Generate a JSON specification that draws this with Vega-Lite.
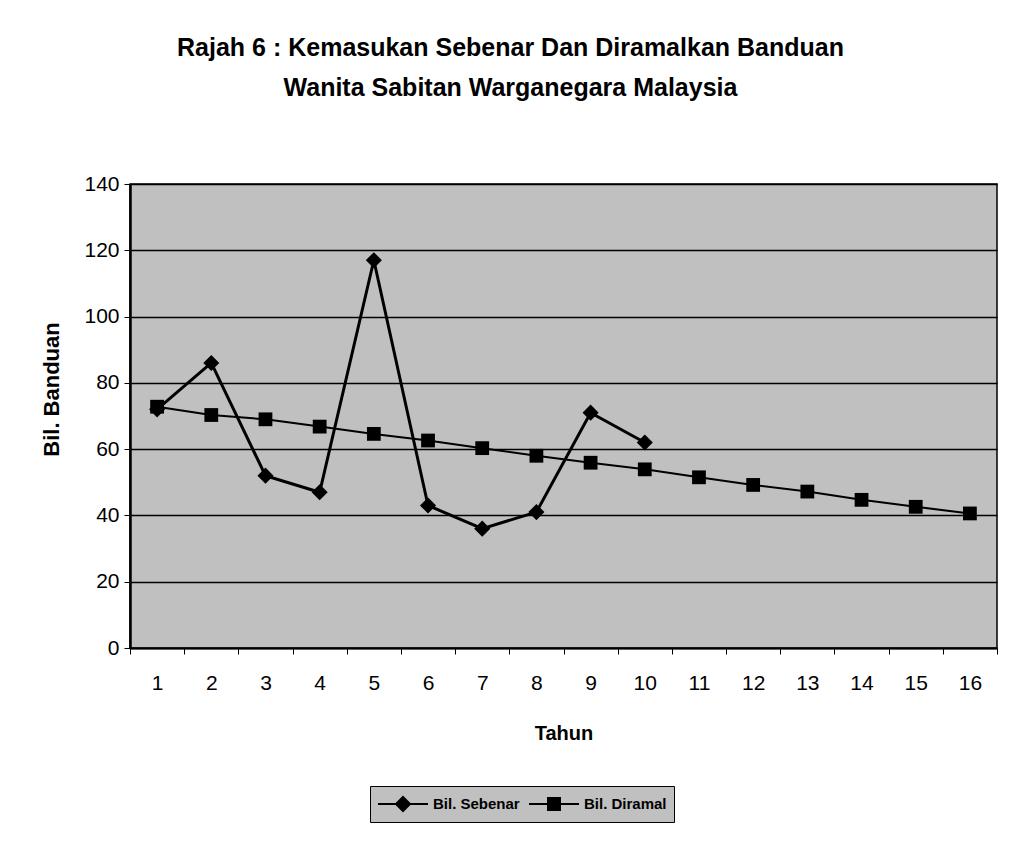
{
  "$schema": "https://vega.github.io/schema/vega-lite/v6.json",
  "width": 867,
  "height": 464,
  "autosize": "none",
  "padding": {"left": 130, "top": 184, "right": 15, "bottom": 195},
  "background": "white",
  "config": {
    "font": "Liberation Sans",
    "view": {"fill": "#c0c0c0", "stroke": "black", "strokeWidth": 1.5}
  },
  "title": {
    "text": ["Rajah 6 : Kemasukan Sebenar Dan Diramalkan Banduan", "Wanita Sabitan Warganegara Malaysia"],
    "fontSize": 25,
    "font": "Liberation Sans",
    "fontWeight": "bold",
    "color": "black",
    "anchor": "middle",
    "frame": "group",
    "dx": -53,
    "offset": 72,
    "lineHeight": 40
  },
  "data": {
    "values": [
      {"tahun": 1, "series": "Bil. Sebenar", "value": 72},
      {"tahun": 2, "series": "Bil. Sebenar", "value": 86},
      {"tahun": 3, "series": "Bil. Sebenar", "value": 52},
      {"tahun": 4, "series": "Bil. Sebenar", "value": 47},
      {"tahun": 5, "series": "Bil. Sebenar", "value": 117},
      {"tahun": 6, "series": "Bil. Sebenar", "value": 43},
      {"tahun": 7, "series": "Bil. Sebenar", "value": 36},
      {"tahun": 8, "series": "Bil. Sebenar", "value": 41},
      {"tahun": 9, "series": "Bil. Sebenar", "value": 71},
      {"tahun": 10, "series": "Bil. Sebenar", "value": 62},
      {"tahun": 1, "series": "Bil. Diramal", "value": 72.8},
      {"tahun": 2, "series": "Bil. Diramal", "value": 70.3},
      {"tahun": 3, "series": "Bil. Diramal", "value": 69},
      {"tahun": 4, "series": "Bil. Diramal", "value": 66.8},
      {"tahun": 5, "series": "Bil. Diramal", "value": 64.6},
      {"tahun": 6, "series": "Bil. Diramal", "value": 62.6},
      {"tahun": 7, "series": "Bil. Diramal", "value": 60.3},
      {"tahun": 8, "series": "Bil. Diramal", "value": 58},
      {"tahun": 9, "series": "Bil. Diramal", "value": 55.9},
      {"tahun": 10, "series": "Bil. Diramal", "value": 53.9},
      {"tahun": 11, "series": "Bil. Diramal", "value": 51.5},
      {"tahun": 12, "series": "Bil. Diramal", "value": 49.2},
      {"tahun": 13, "series": "Bil. Diramal", "value": 47.2},
      {"tahun": 14, "series": "Bil. Diramal", "value": 44.7},
      {"tahun": 15, "series": "Bil. Diramal", "value": 42.6},
      {"tahun": 16, "series": "Bil. Diramal", "value": 40.6}
    ]
  },
  "encoding": {
    "x": {
      "field": "tahun",
      "type": "ordinal",
      "scale": {"type": "band", "paddingInner": 0, "paddingOuter": 0},
      "axis": {
        "title": "Tahun",
        "titleFontSize": 20,
        "titleFontWeight": "bold",
        "titleColor": "black",
        "labelAngle": 0,
        "labelFontSize": 21,
        "labelColor": "black",
        "labelPadding": 18,
        "titlePadding": 30,
        "tickBand": "extent",
        "tickColor": "black",
        "tickSize": 6,
        "domainColor": "black",
        "domainWidth": 2,
        "grid": false
      }
    },
    "y": {
      "field": "value",
      "type": "quantitative",
      "scale": {"domain": [0, 140]},
      "axis": {
        "values": [0, 20, 40, 60, 80, 100, 120, 140],
        "title": "Bil. Banduan",
        "titleFontSize": 22,
        "titleFontWeight": "bold",
        "titleColor": "black",
        "titlePadding": 20,
        "titleY": 205,
        "labelFontSize": 21,
        "labelColor": "black",
        "labelPadding": 5,
        "tickColor": "black",
        "tickSize": 6,
        "domainColor": "black",
        "domainWidth": 2.5,
        "gridColor": "black",
        "gridWidth": 1.5,
        "gridOpacity": 1
      }
    }
  },
  "layer": [
    {
      "transform": [{"filter": "datum.series === 'Bil. Diramal'"}],
      "mark": {"type": "line", "color": "black", "strokeWidth": 2}
    },
    {
      "transform": [{"filter": "datum.series === 'Bil. Sebenar'"}],
      "mark": {"type": "line", "color": "black", "strokeWidth": 3}
    },
    {
      "transform": [{"filter": "datum.series === 'Bil. Diramal'"}],
      "mark": {"type": "point", "shape": "square", "filled": true, "color": "black", "size": 190, "opacity": 1}
    },
    {
      "transform": [{"filter": "datum.series === 'Bil. Sebenar'"}],
      "mark": {"type": "point", "shape": "diamond", "filled": true, "color": "black", "size": 260, "opacity": 1}
    },
    {
      "mark": {"type": "point", "filled": false, "color": "black", "strokeWidth": 2, "size": 2500, "opacity": 0},
      "encoding": {
        "shape": {
          "field": "series",
          "type": "nominal",
          "scale": {
            "domain": ["Bil. Sebenar", "Bil. Diramal"],
            "range": [
              "M-1,0L1,0M0,-0.28L0.28,0L0,0.28L-0.28,0ZM-0.22,-0.06L0.22,-0.06M-0.22,0.06L0.22,0.06M-0.16,-0.12L0.16,-0.12M-0.16,0.12L0.16,0.12M-0.1,-0.18L0.1,-0.18M-0.1,0.18L0.1,0.18M-0.04,-0.24L0.04,-0.24M-0.04,0.24L0.04,0.24",
              "M-1,0L1,0M-0.24,-0.24L0.24,-0.24L0.24,0.24L-0.24,0.24ZM-0.24,-0.18L0.24,-0.18M-0.24,-0.12L0.24,-0.12M-0.24,-0.06L0.24,-0.06M-0.24,0.06L0.24,0.06M-0.24,0.12L0.24,0.12M-0.24,0.18L0.24,0.18"
            ]
          },
          "legend": {
            "orient": "none",
            "legendX": 240,
            "legendY": 602,
            "direction": "horizontal",
            "title": null,
            "fillColor": "#c0c0c0",
            "strokeColor": "black",
            "padding": 7,
            "clipHeight": 22,
            "symbolSize": 2500,
            "symbolStrokeWidth": 2,
            "symbolStrokeColor": "black",
            "symbolOpacity": 1,
            "labelFontSize": 15,
            "labelFontWeight": "bold",
            "labelColor": "black",
            "labelOffset": 4,
            "columnPadding": 8
          }
        }
      }
    }
  ]
}
